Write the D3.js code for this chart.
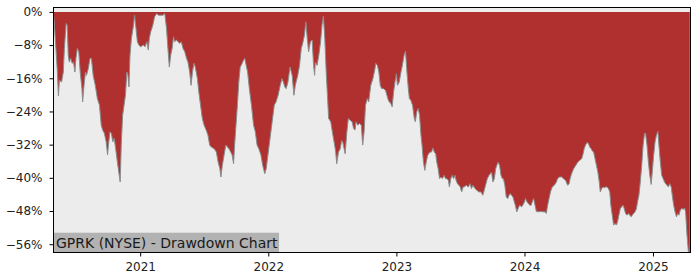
<!DOCTYPE html>
<html><head><meta charset="utf-8">
<script src="https://cdn.jsdelivr.net/npm/d3@7"></script>
<style>html,body{margin:0;padding:0;background:#fff;} svg{display:block;font-family:"DejaVu Sans",sans-serif;}</style>
</head><body><svg id="chart" width="700" height="280"></svg>
<script>
const dates = [
"2020-04-30","2020-05-06","2020-05-10","2020-05-13","2020-05-16","2020-05-22","2020-05-27","2020-05-30","2020-06-04","2020-06-07",
"2020-06-10","2020-06-13","2020-06-17","2020-06-21","2020-06-25","2020-06-29","2020-07-02","2020-07-06","2020-07-10","2020-07-14",
"2020-07-19","2020-07-21","2020-07-25","2020-07-29","2020-08-01","2020-08-06","2020-08-11","2020-08-15","2020-08-20","2020-08-26",
"2020-09-01","2020-09-07","2020-09-12","2020-09-16","2020-09-21","2020-09-26","2020-09-30","2020-10-03","2020-10-07","2020-10-11",
"2020-10-15","2020-10-19","2020-10-23","2020-10-28","2020-11-01","2020-11-05","2020-11-08","2020-11-12","2020-11-16","2020-11-20",
"2020-11-24","2020-11-27","2020-11-30","2020-12-03","2020-12-07","2020-12-13","2020-12-16","2020-12-20","2020-12-24","2020-12-28",
"2021-01-02","2021-01-10","2021-01-15","2021-01-20","2021-01-24","2021-01-27","2021-01-31","2021-02-06","2021-02-11","2021-02-17",
"2021-02-22","2021-03-07","2021-03-12","2021-03-17","2021-03-21","2021-03-25","2021-03-29","2021-04-02","2021-04-06","2021-04-09",
"2021-04-14","2021-04-19","2021-04-24","2021-04-28","2021-05-03","2021-05-08","2021-05-13","2021-05-17","2021-05-22","2021-05-26",
"2021-05-30","2021-06-03","2021-06-07","2021-06-13","2021-06-17","2021-06-22","2021-06-27","2021-07-02","2021-07-08","2021-07-13",
"2021-07-18","2021-07-23","2021-07-31","2021-08-06","2021-08-11","2021-08-16","2021-08-19","2021-08-23","2021-08-28","2021-09-02",
"2021-09-07","2021-09-11","2021-09-16","2021-09-20","2021-09-24","2021-09-27","2021-10-01","2021-10-05","2021-10-09","2021-10-13",
"2021-10-18","2021-10-22","2021-10-26","2021-10-30","2021-11-03","2021-11-08","2021-11-14","2021-11-20","2021-11-25","2021-11-30",
"2021-12-05","2021-12-11","2021-12-16","2021-12-22","2021-12-26","2021-12-31","2022-01-06","2022-01-12","2022-01-18","2022-01-23",
"2022-01-29","2022-02-04","2022-02-09","2022-02-13","2022-02-17","2022-02-21","2022-02-26","2022-03-04","2022-03-10","2022-03-15",
"2022-03-19","2022-03-26","2022-03-31","2022-04-05","2022-04-09","2022-04-14","2022-04-18","2022-04-22","2022-04-26","2022-05-01",
"2022-05-06","2022-05-10","2022-05-13","2022-05-15","2022-05-20","2022-05-25","2022-05-30","2022-06-03","2022-06-07","2022-06-11",
"2022-06-15","2022-06-19","2022-06-22","2022-06-28","2022-07-04","2022-07-09","2022-07-12","2022-07-15","2022-07-20","2022-07-25",
"2022-07-29","2022-08-01","2022-08-05","2022-08-08","2022-08-13","2022-08-17","2022-08-22","2022-08-28","2022-09-01","2022-09-05",
"2022-09-08","2022-09-13","2022-09-18","2022-09-23","2022-09-27","2022-10-01","2022-10-05","2022-10-10","2022-10-14","2022-10-20",
"2022-10-26","2022-11-01","2022-11-03","2022-11-08","2022-11-12","2022-11-16","2022-11-20","2022-11-25","2022-12-01","2022-12-05",
"2022-12-09","2022-12-12","2022-12-16","2022-12-20","2022-12-24","2022-12-28","2023-01-01","2023-01-04","2023-01-09","2023-01-14",
"2023-01-18","2023-01-23","2023-01-27","2023-01-31","2023-02-04","2023-02-07","2023-02-11","2023-02-16","2023-02-21","2023-02-24",
"2023-02-28","2023-03-04","2023-03-08","2023-03-12","2023-03-15","2023-03-19","2023-03-23","2023-03-27","2023-03-31","2023-04-03",
"2023-04-07","2023-04-11","2023-04-15","2023-04-19","2023-04-23","2023-04-26","2023-04-30","2023-05-04","2023-05-08","2023-05-12",
"2023-05-17","2023-05-21","2023-05-25","2023-05-29","2023-06-01","2023-06-05","2023-06-09","2023-06-13","2023-06-17","2023-06-20",
"2023-06-24","2023-06-28","2023-07-02","2023-07-06","2023-07-10","2023-07-13","2023-07-19","2023-07-25","2023-07-30","2023-08-03",
"2023-08-07","2023-08-13","2023-08-18","2023-08-24","2023-08-30","2023-09-04","2023-09-07","2023-09-12","2023-09-17","2023-09-22",
"2023-09-26","2023-09-29","2023-10-03","2023-10-07","2023-10-11","2023-10-14","2023-10-18","2023-10-22","2023-10-26","2023-10-30",
"2023-11-02","2023-11-06","2023-11-10","2023-11-14","2023-11-18","2023-11-21","2023-11-25","2023-11-29","2023-12-03","2023-12-07",
"2023-12-10","2023-12-14","2023-12-18","2023-12-24","2023-12-27","2024-01-01","2024-01-04","2024-01-08","2024-01-12","2024-01-16",
"2024-01-20","2024-01-23","2024-01-27","2024-01-31","2024-02-04","2024-02-07","2024-02-11","2024-02-17","2024-02-23","2024-02-28",
"2024-03-03","2024-03-07","2024-03-11","2024-03-15","2024-03-20","2024-03-26","2024-04-01","2024-04-04","2024-04-10","2024-04-16",
"2024-04-21","2024-04-27","2024-05-03","2024-05-07","2024-05-10","2024-05-14","2024-05-20","2024-05-26","2024-06-01","2024-06-06",
"2024-06-12","2024-06-16","2024-06-19","2024-06-23","2024-06-27","2024-07-01","2024-07-05","2024-07-09","2024-07-11","2024-07-16",
"2024-07-20","2024-07-24","2024-07-28","2024-08-01","2024-08-04","2024-08-08","2024-08-12","2024-08-16","2024-08-19","2024-08-23",
"2024-08-27","2024-08-31","2024-09-03","2024-09-07","2024-09-11","2024-09-15","2024-09-19","2024-09-22","2024-09-26","2024-09-30",
"2024-10-04","2024-10-08","2024-10-11","2024-10-15","2024-10-19","2024-10-23","2024-10-27","2024-10-31","2024-11-03","2024-11-07",
"2024-11-11","2024-11-15","2024-11-18","2024-11-22","2024-11-26","2024-11-30","2024-12-04","2024-12-08","2024-12-11","2024-12-15",
"2024-12-19","2024-12-23","2024-12-27","2024-12-30","2025-01-03","2025-01-07","2025-01-11","2025-01-15","2025-01-18","2025-01-22",
"2025-01-26","2025-01-30","2025-02-03","2025-02-06","2025-02-10","2025-02-14","2025-02-18","2025-02-22","2025-02-25","2025-03-01",
"2025-03-05","2025-03-09","2025-03-13","2025-03-16","2025-03-20","2025-03-24","2025-03-28","2025-04-01","2025-04-04","2025-04-08",
"2025-04-12","2025-04-16"
];
const drawdown = [
-1.2,-9.0,-14.5,-20.3,-16.5,-16.9,-14.5,-8.8,-2.8,-3.2,
-10.4,-12.1,-11.2,-12.4,-12.1,-14.5,-11.2,-8.8,-9.6,-14.5,
-18.5,-21.7,-17.7,-14.5,-15.3,-13.7,-11.2,-11.2,-15.3,-17.7,
-20.9,-22.5,-27.3,-28.5,-29.3,-31.3,-34.5,-31.7,-28.9,-29.3,
-31.3,-30.5,-32.9,-36.2,-38.6,-41.0,-32.1,-24.9,-22.5,-20.1,
-14.5,-15.3,-18.1,-10.4,-6.4,-3.2,-0.8,-4.0,-7.2,-8.0,
-8.4,-8.0,-8.4,-7.2,-9.2,-6.4,-4.8,-3.2,-1.2,-0.4,
-0.8,-0.8,-0.4,-4.0,-8.8,-13.3,-10.4,-8.8,-6.0,-7.2,
-6.8,-7.2,-7.6,-7.2,-8.8,-9.6,-11.2,-12.1,-14.5,-17.7,
-14.5,-12.4,-13.3,-16.1,-19.3,-22.5,-25.7,-27.3,-28.5,-29.7,
-32.1,-32.6,-33.0,-33.8,-36.2,-37.8,-39.8,-37.0,-34.5,-32.1,
-32.6,-33.0,-33.8,-34.5,-36.6,-32.1,-27.3,-22.5,-16.9,-13.3,
-12.5,-11.7,-11.2,-12.9,-14.5,-18.5,-22.5,-27.3,-28.9,-32.1,
-33.0,-34.5,-37.0,-39.0,-37.8,-34.5,-30.5,-26.5,-22.5,-21.7,
-20.1,-17.7,-16.1,-16.9,-18.1,-18.5,-16.9,-13.3,-15.3,-20.1,
-17.7,-15.3,-12.9,-8.8,-7.6,-5.6,-2.4,-6.4,-9.6,-7.2,
-6.8,-12.9,-15.3,-12.1,-12.9,-10.4,-7.2,-3.2,-1.0,-6.4,
-14.5,-20.9,-25.7,-26.5,-29.7,-32.1,-33.8,-36.6,-33.8,-33.0,
-31.0,-31.3,-33.0,-34.2,-28.9,-25.7,-26.1,-26.5,-28.1,-28.5,
-26.5,-27.3,-26.9,-27.3,-32.1,-28.9,-22.5,-20.9,-21.7,-17.7,
-16.1,-13.7,-12.4,-12.9,-14.5,-17.7,-18.5,-18.5,-18.9,-20.1,
-21.3,-21.7,-22.1,-22.9,-19.3,-16.9,-14.9,-17.7,-16.9,-14.5,
-12.9,-10.4,-9.5,-14.5,-18.5,-20.9,-21.3,-22.5,-25.7,-26.5,
-24.1,-23.3,-24.9,-29.7,-32.1,-36.2,-38.2,-36.2,-34.6,-34.2,
-33.8,-33.8,-32.8,-33.8,-34.2,-36.2,-37.8,-40.2,-39.8,-40.2,
-39.4,-40.2,-40.2,-40.6,-42.2,-40.2,-39.4,-40.2,-39.4,-40.6,
-41.4,-41.8,-42.2,-43.4,-42.2,-42.2,-41.8,-42.2,-41.4,-42.6,
-41.8,-42.6,-43.0,-43.4,-43.4,-44.2,-43.4,-41.8,-40.2,-39.4,
-39.0,-38.6,-41.0,-40.2,-37.8,-37.0,-36.2,-37.0,-39.4,-40.2,
-40.2,-41.8,-44.6,-45.0,-44.2,-43.8,-44.2,-44.6,-45.8,-47.0,
-48.2,-47.4,-46.6,-47.0,-46.6,-45.8,-45.0,-45.8,-46.2,-46.6,
-46.6,-45.8,-45.0,-46.6,-48.2,-48.1,-48.2,-48.1,-48.2,-48.2,
-48.6,-46.6,-45.0,-43.4,-42.2,-41.8,-41.0,-40.2,-39.8,-39.8,
-40.2,-40.6,-41.8,-41.4,-40.2,-39.0,-37.8,-37.0,-36.2,-35.8,
-35.4,-34.2,-33.0,-32.1,-31.5,-31.7,-32.6,-33.0,-33.4,-33.8,
-35.4,-37.0,-38.6,-41.0,-43.4,-42.6,-42.2,-42.4,-42.2,-42.2,
-42.6,-43.4,-46.6,-49.0,-51.4,-51.0,-51.4,-50.6,-49.0,-47.4,
-47.0,-46.6,-47.4,-48.6,-49.0,-48.6,-49.0,-49.4,-49.0,-48.6,
-48.2,-47.4,-45.8,-44.2,-41.0,-37.0,-32.1,-29.3,-29.3,-32.1,
-36.2,-39.4,-41.6,-38.6,-34.6,-31.3,-29.7,-28.8,-32.1,-36.2,
-39.4,-40.2,-41.0,-41.4,-41.8,-42.2,-41.4,-42.2,-44.2,-46.6,
-48.2,-49.4,-48.6,-49.0,-47.8,-47.4,-47.6,-47.3,-48.2,-53.8,
-57.9,-57.9
];
const yTicks = [0, -8, -16, -24, -32, -40, -48, -56];
const xTickYears = ["2021", "2022", "2023", "2024", "2025"];
const xDomain = ["2020-04-29", "2025-04-18"];
const yDomain = [-58.0, 1.06];
const title = "GPRK (NYSE) - Drawdown Chart";

const parse = d3.timeParse("%Y-%m-%d");
const data = dates.map((d, i) => ({date: parse(d), v: drawdown[i]}));
const W = 700, H = 280;
const margin = {left: 53.5, top: 7.5, right: 9.5, bottom: 27.5};
const iw = W - margin.left - margin.right;
const ih = H - margin.top - margin.bottom;

const x = d3.scaleTime().domain(xDomain.map(parse)).range([0, iw]);
const y = d3.scaleLinear().domain(yDomain).range([ih, 0]);

const svg = d3.select("#chart");
const g = svg.append("g").attr("transform", `translate(${margin.left},${margin.top})`);

svg.append("defs").append("clipPath").attr("id", "clip")
  .append("rect").attr("width", iw).attr("height", ih);

g.append("rect").attr("width", iw).attr("height", ih).attr("fill", "#ececec");

const plot = g.append("g").attr("clip-path", "url(#clip)");
plot.append("path").datum(data)
  .attr("fill", "#b03030")
  .attr("d", d3.area().x(d => x(d.date)).y0(y(0)).y1(d => y(d.v)));
plot.append("path").datum(data)
  .attr("fill", "none").attr("stroke", "#8c8c8c").attr("stroke-width", 1)
  .attr("d", d3.line().x(d => x(d.date)).y(d => y(d.v)));

// title label with background
const lbl = g.append("g");
const lblBg = lbl.append("rect").attr("fill", "#b2b2b2");
const lblText = lbl.append("text")
  .attr("x", 2.5).attr("y", ih - 5)
  .attr("font-size", 14).attr("fill", "#1a1a1a")
  .text(title);
const tl = lblText.node().getComputedTextLength();
lblBg.attr("x", 0).attr("y", ih - 19.8).attr("width", tl + 4).attr("height", 19.8);

// axes
const yAxis = d3.axisLeft(y).tickValues(yTicks).tickSize(4).tickPadding(7)
  .tickFormat(d => (d < 0 ? "\u2212" + Math.abs(d) : d) + "%");
const yg = g.append("g").call(yAxis);
yg.select(".domain").remove();
yg.selectAll("text").attr("font-size", 12).attr("font-family", "DejaVu Sans").attr("fill", "#222");

const xAxis = d3.axisBottom(x)
  .tickValues(xTickYears.map(s => parse(s + "-01-01")))
  .tickSize(4).tickPadding(6).tickFormat(d3.timeFormat("%Y"));
const xg = g.append("g").attr("transform", `translate(0,${ih})`).call(xAxis);
xg.select(".domain").remove();
xg.selectAll("text").attr("font-size", 12).attr("font-family", "DejaVu Sans").attr("fill", "#222");

g.append("rect").attr("width", iw).attr("height", ih)
  .attr("fill", "none").attr("stroke", "#000").attr("stroke-width", 1);
</script></body></html>
